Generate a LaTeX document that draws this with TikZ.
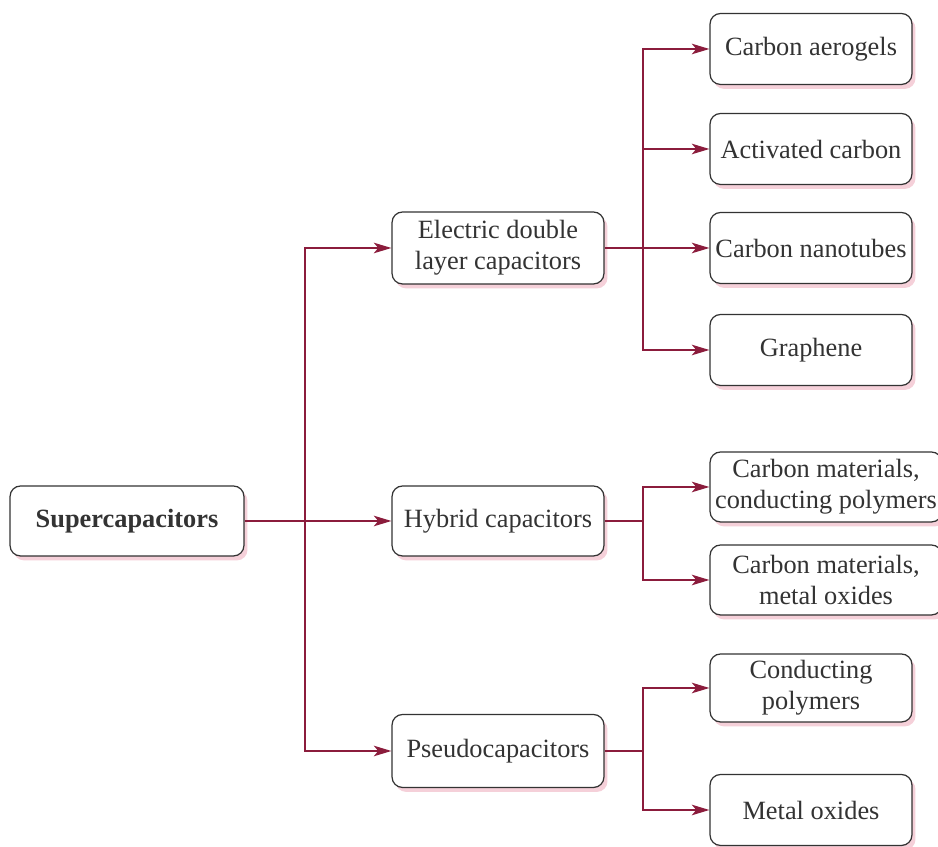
\documentclass[tikz,border=0pt]{standalone}
\usepackage{fontspec}
\setmainfont{Liberation Serif}
\usetikzlibrary{arrows.meta,shadows}
\definecolor{scred}{HTML}{8B1C3C}
\definecolor{scgray}{HTML}{333333}
\definecolor{scpink}{HTML}{F2C4CF}

\begin{document}
\begin{tikzpicture}[x=0.02cm,y=-0.02cm,
  box/.style={draw=scgray,fill=white,rounded corners=6pt,line width=0.7pt,
    align=center,text=scgray,inner sep=2pt,
    font=\fontsize{15}{17.5}\selectfont,
    drop shadow={fill=scpink,shadow xshift=2pt,shadow yshift=-2.5pt,opacity=0.8}},
  leaf/.style={box,minimum width=4.04cm,minimum height=1.42cm},
  link/.style={draw=scred,line width=0.85pt},
  arr/.style={link,-{Stealth[length=10pt,width=6pt,inset=2.5pt]}}]

  \useasboundingbox (0,0) rectangle (938,847);

  % ---- Root ------------------------------------------------
  \node[box,minimum width=4.68cm,minimum height=1.4cm,
    font=\fontsize{15}{17.5}\selectfont\bfseries] (super) at (127,521) {Supercapacitors};

  % ---- Middle column ---------------------------------------
  \node[box,minimum width=4.24cm,minimum height=1.44cm] (edlc) at (498,248)
    {Electric double\\layer capacitors};
  \node[box,minimum width=4.24cm,minimum height=1.4cm] (hybrid) at (498,521)
    {Hybrid capacitors};
  \node[box,minimum width=4.24cm,minimum height=1.46cm] (pseudo) at (498,751)
    {Pseudocapacitors};

  % ---- Right column ----------------------------------------
  \node[leaf] (aerogel) at (811,49)  {Carbon aerogels};
  \node[leaf] (actc)    at (811,149) {Activated carbon};
  \node[leaf] (cnt)     at (811,248) {Carbon nanotubes};
  \node[leaf] (graph)   at (811,350) {Graphene};
  \node[leaf,minimum width=4.64cm,minimum height=1.4cm] (cmcp) at (826,487)
    {Carbon materials,\\conducting polymers};
  \node[leaf,minimum width=4.64cm,minimum height=1.4cm] (cmmo) at (826,580)
    {Carbon materials,\\metal oxides};
  \node[leaf,minimum height=1.36cm] (cpoly) at (811,688) {Conducting\\polymers};
  \node[leaf] (moxide)  at (811,810) {Metal oxides};

  % ---- Branch points ---------------------------------------
  \coordinate (tsuper) at (305,521);
  \coordinate (tedlc)  at (643,248);
  \coordinate (thyb)   at (643,521);
  \coordinate (tpseu)  at (643,751);

  % ---- Connectors ------------------------------------------
  \draw[arr] (super.east) -- (hybrid.west);
  \draw[arr] (tsuper) |- (edlc.west);
  \draw[arr] (tsuper) |- (pseudo.west);

  \draw[arr] (edlc.east) -- (cnt.west);
  \draw[arr] (tedlc) |- (aerogel.west);
  \draw[arr] (tedlc) |- (actc.west);
  \draw[arr] (tedlc) |- (graph.west);

  \draw[link] (hybrid.east) -- (thyb);
  \draw[arr] (thyb) |- (cmcp.west);
  \draw[arr] (thyb) |- (cmmo.west);

  \draw[link] (pseudo.east) -- (tpseu);
  \draw[arr] (tpseu) |- (cpoly.west);
  \draw[arr] (tpseu) |- (moxide.west);

\end{tikzpicture}
\end{document}
